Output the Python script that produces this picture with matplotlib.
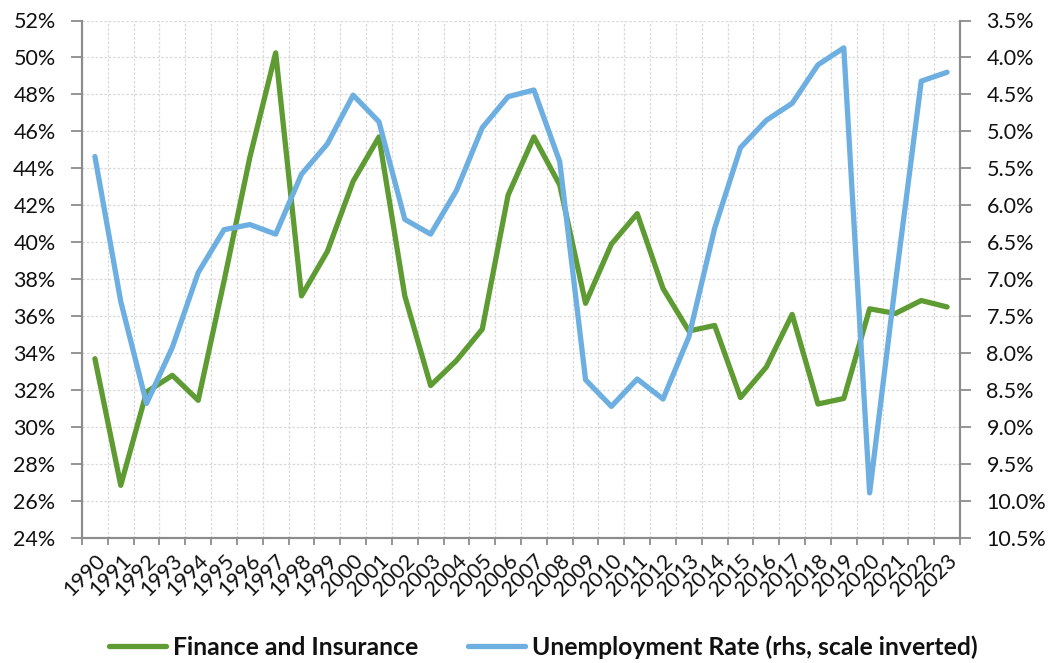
import matplotlib
matplotlib.use("Agg")
import matplotlib.pyplot as plt
from matplotlib.ticker import FixedLocator, FuncFormatter, NullFormatter

plt.rcParams['font.family'] = ['Lato', 'DejaVu Sans']

years = list(range(1990, 2024))
finance = [33.7, 26.85, 31.9, 32.8, 31.45, 37.9, 44.6, 50.25, 37.1, 39.5,
           43.3, 45.7, 37.1, 32.25, 33.6, 35.3, 42.55, 45.7, 43.1, 36.7,
           39.9, 41.55, 37.5, 35.2, 35.5, 31.6, 33.25, 36.1, 31.25, 31.55,
           36.4, 36.15, 36.85, 36.5]
unemp = [5.34, 7.30, 8.68, 7.92, 6.91, 6.33, 6.26, 6.39, 5.58, 5.17,
         4.51, 4.87, 6.19, 6.39, 5.80, 4.95, 4.53, 4.44, 5.41, 8.36,
         8.72, 8.35, 8.62, 7.78, 6.31, 5.22, 4.85, 4.62, 4.10, 3.87,
         9.89, 7.05, 4.32, 4.20]

left_ticks = list(range(24, 53, 2))
right_ticks = [3.5 + 0.5 * i for i in range(15)]

GREEN = "#5E9B32"
BLUE = "#6DAFE1"
AXIS = "#8C8C8C"
GRID = "#D9D9D9"
TXT = "#111111"

fig = plt.figure(figsize=(10.57, 6.63), dpi=100)
ax = fig.add_axes([82 / 1057, 1 - 538 / 663, (960 - 82) / 1057, (538 - 20.5) / 663])
ax2 = ax.twinx()

x = list(range(len(years)))
ax.plot(x, finance, color=GREEN, lw=3.8, solid_capstyle='round', solid_joinstyle='round', zorder=3,
        label="Finance and Insurance")
ax2.plot(x, unemp, color=BLUE, lw=3.8, solid_capstyle='round', solid_joinstyle='round', zorder=3,
         label="Unemployment Rate (rhs, scale inverted)")

ax.set_xlim(-0.5, len(years) - 0.5)
ax.set_ylim(24, 52)
ax2.set_ylim(10.5, 3.5)

# x ticks: major at boundaries (tick marks + gridlines), minor at centers (labels)
ax.xaxis.set_major_locator(FixedLocator([i - 0.5 for i in range(len(years) + 1)]))
ax.xaxis.set_major_formatter(NullFormatter())
ax.xaxis.set_minor_locator(FixedLocator(x))
ax.set_xticklabels([str(y) for y in years], minor=True, rotation=45, ha='right',
                   rotation_mode='anchor', fontsize=15.5, color=TXT)
ax.tick_params(axis='x', which='major', length=5, width=1.3, color=AXIS, direction='out')
ax.tick_params(axis='x', which='minor', length=0, pad=9)

ax.yaxis.set_major_locator(FixedLocator(left_ticks))
ax.yaxis.set_major_formatter(FuncFormatter(lambda v, p: f"{v:.0f}%"))
ax.tick_params(axis='y', length=8, width=1.3, color=AXIS, labelsize=15.5, pad=11,
               labelcolor=TXT)

ax2.yaxis.set_major_locator(FixedLocator(right_ticks))
ax2.yaxis.set_major_formatter(FuncFormatter(lambda v, p: f"{v:.1f}%"))
ax2.tick_params(axis='y', length=8, width=1.3, color=AXIS, labelsize=15.5, pad=11,
                labelcolor=TXT)

ax.grid(True, which='major', axis='both', color=GRID, lw=0.9, ls=(0, (2, 1.5)), zorder=0)
ax.set_axisbelow(True)

for a in (ax, ax2):
    a.spines['top'].set_visible(False)
    a.spines['left'].set_color(AXIS)
    a.spines['right'].set_color(AXIS)
    a.spines['bottom'].set_color(AXIS)
    for s in ('left', 'right', 'bottom'):
        a.spines[s].set_linewidth(1.5)

h1, l1 = ax.get_legend_handles_labels()
h2, l2 = ax2.get_legend_handles_labels()
leg = fig.legend(h1 + h2, l1 + l2, loc='center', bbox_to_anchor=(0.514, 1 - 647 / 663), ncol=2,
                 frameon=False, prop={'weight': 'bold', 'size': 17.8}, handlelength=2.3,
                 handletextpad=0.3, columnspacing=2.0)
for t in leg.get_texts():
    t.set_color(TXT)

fig.savefig("out.png", dpi=100)
